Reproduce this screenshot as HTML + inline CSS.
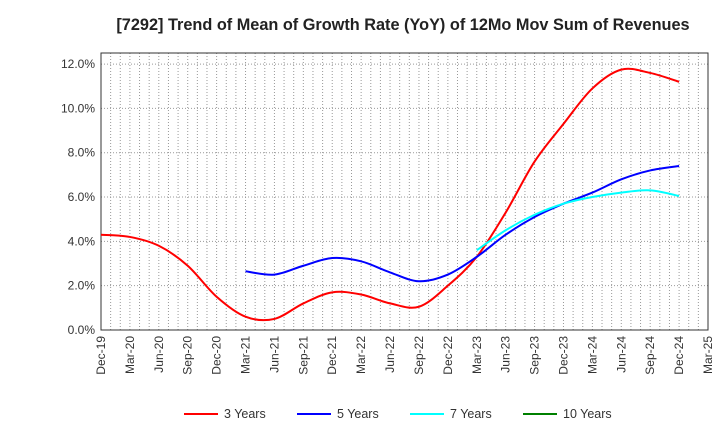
<!DOCTYPE html>
<html><head><meta charset="utf-8"><style>
body{margin:0;background:#fff;font-family:"Liberation Sans",sans-serif}
</style></head><body>
<svg id="chart" width="720" height="440" xmlns="http://www.w3.org/2000/svg">
<text x="403" y="30" text-anchor="middle" font-size="16.3" font-weight="bold" fill="#222">[7292]  Trend of Mean of Growth Rate (YoY) of 12Mo Mov Sum of Revenues</text>
<g id="grid"></g><g id="axes"></g><g id="series"></g><g id="legend"></g>
</svg>
<script>
const xLabels=["Dec-19","Mar-20","Jun-20","Sep-20","Dec-20","Mar-21","Jun-21","Sep-21","Dec-21","Mar-22","Jun-22","Sep-22","Dec-22","Mar-23","Jun-23","Sep-23","Dec-23","Mar-24","Jun-24","Sep-24","Dec-24","Mar-25"];
const yTicks=[0,2,4,6,8,10,12];
const s3Quarter=[0,1,2,3,4,5,6,7,8,9,10,11,12,13,14,15,16,17,18,19,20];
const s3=[4.3,4.2,3.8,2.9,1.5,0.6,0.5,1.2,1.7,1.6,1.2,1.05,2.0,3.3,5.3,7.6,9.3,10.9,11.75,11.6,11.2];
const s5Quarter=[5,6,7,8,9,10,11,12,13,14,15,16,17,18,19,20];
const s5=[2.65,2.5,2.9,3.25,3.1,2.6,2.2,2.5,3.3,4.3,5.1,5.7,6.2,6.8,7.2,7.4];
const s7Quarter=[13,14,15,16,17,18,19,20];
const s7=[3.6,4.5,5.2,5.7,6.0,6.2,6.3,6.05];
const s10Quarter=[];const s10=[];
const L=101,R=708,T=53,B=330,ymax=12.5;
const X=q=>L+(R-L)*q/21;
const Y=v=>B-(B-T)*v/ymax;
const NS="http://www.w3.org/2000/svg";
function mk(tag,attrs,parent){const e=document.createElementNS(NS,tag);for(const k in attrs)e.setAttribute(k,attrs[k]);parent.appendChild(e);return e;}
const grid=document.getElementById('grid'),axes=document.getElementById('axes'),ser=document.getElementById('series'),leg=document.getElementById('legend');
for(let m=1;m<63;m++){const x=L+(R-L)*m/63;const g=mk('line',{x1:x,x2:x,y1:T,y2:B,stroke:'#999','stroke-dasharray':'1,2','stroke-width':1},grid);

}
yTicks.forEach(v=>{const y=Y(v);if(v>0){const g=mk('line',{x1:L,x2:R,y1:y,y2:y,stroke:'#999','stroke-dasharray':'1,2'},grid);

}
const t=mk('text',{x:L-6,y:y+4,'text-anchor':'end','font-size':12,fill:'#333'},axes);t.textContent=v.toFixed(1)+'%';

});
const fr=mk('rect',{x:L,y:T,width:R-L,height:B-T,fill:'none',stroke:'#333','stroke-width':1},axes);


xLabels.forEach((lab,i)=>{const x=X(i);const t=mk('text',{transform:`translate(${x+4},${B+6}) rotate(-90)`,'text-anchor':'end','font-size':12,fill:'#333'},axes);t.textContent=lab;

});
function path(qs,vs){const p=qs.map((q,i)=>[X(q),Y(vs[i])]);if(!p.length)return'';let d=`M${p[0][0]},${p[0][1]}`;
for(let i=0;i<p.length-1;i++){const p0=p[i-1]||p[i],p1=p[i],p2=p[i+1],p3=p[i+2]||p2;
d+=` C${p1[0]+(p2[0]-p0[0])/6},${p1[1]+(p2[1]-p0[1])/6} ${p2[0]-(p3[0]-p1[0])/6},${p2[1]-(p3[1]-p1[1])/6} ${p2[0]},${p2[1]}`;}return d;}
const series=[["3 Years","#ff0000",s3Quarter,s3],["5 Years","#0000ff",s5Quarter,s5],["7 Years","#00ffff",s7Quarter,s7],["10 Years","#008000",s10Quarter,s10]];
series.forEach(([n,c,q,v],i)=>{if(q.length){const p=mk('path',{d:path(q,v),fill:'none',stroke:c,'stroke-width':2},ser);

}
const lx=184+i*113;const l=mk('line',{x1:lx,x2:lx+34,y1:414,y2:414,stroke:c,'stroke-width':2},leg);


const t=mk('text',{x:lx+40,y:418,'font-size':12.5,fill:'#333'},leg);t.textContent=n;

});
</script>
</body></html>
